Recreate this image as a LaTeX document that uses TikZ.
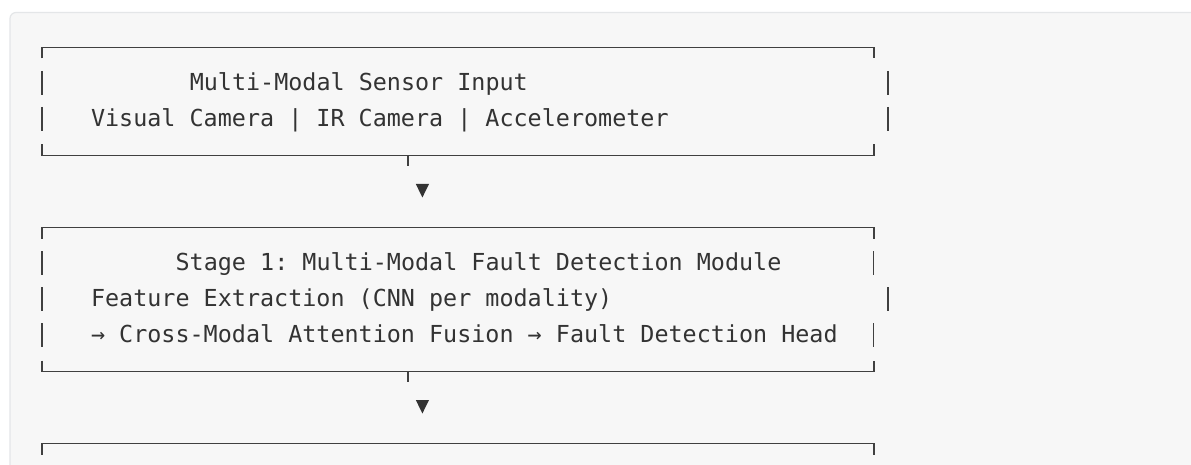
\documentclass[tikz,border=0pt]{standalone}
\usepackage{fontspec}
\setmonofont{DejaVu Sans Mono}
\definecolor{panel}{HTML}{F7F7F7}
\definecolor{panelborder}{HTML}{E4E6E8}
\definecolor{ink}{HTML}{333333}
\definecolor{rule}{HTML}{404040}
\newcommand{\cx}[1]{41.7+14.1*(#1)}
\newcommand{\ry}[1]{47.5+36*(#1)}
\begin{document}
\begin{tikzpicture}[x=1pt,y=-1pt,
  txt/.style={anchor=base west, inner sep=0pt, outer sep=0pt, text=ink,
    font=\ttfamily\fontsize{23.4}{36}\selectfont},
  frame/.style={draw=rule, line width=1.8pt},
  bar/.style={draw=rule, line width=1.7pt},
  head/.style={fill=ink, draw=none}]
\useasboundingbox (0,0) rectangle (1191,465);
\clip (0,0) rectangle (1191,465);
\fill[white] (0,0) rectangle (1191,465);
\draw[draw=panelborder, fill=panel, line width=1.2pt, rounded corners=6pt] (10,12.5) rectangle (1230,520);

% ---------- Box 1 ----------
\coordinate (b1tl) at ({\cx{0}},{\ry{0}});
\coordinate (b1tr) at ({\cx{59}},{\ry{0}});
\coordinate (b1bl) at ({\cx{0}},{\ry{3}});
\coordinate (b1br) at ({\cx{59}},{\ry{3}});
\draw[frame] ([yshift=-11]b1tl) -- (b1tl) -- (b1tr) -- ([yshift=-11]b1tr);
\draw[frame] ([yshift=11]b1bl) -- (b1bl) -- (b1br) -- ([yshift=11]b1br);
\foreach \r/\c in {1/0,1/60,2/0,2/60}
  \draw[bar] ({\cx{\c}},{\ry{\r}-12.5}) -- ({\cx{\c}},{\ry{\r}+11.5});
\node[txt] (t1a) at ({\cx{11}-7.05},{\ry{1}+7.2}) {Multi-Modal Sensor Input};
\node[txt] (t1b) at ({\cx{4}-7.05},{\ry{2}+7.2}) {Visual Camera | IR Camera | Accelerometer};

% ---------- Connector 1 ----------
\coordinate (s1) at ({\cx{26}},{\ry{3}});
\coordinate (s1e) at ({\cx{26}},{\ry{3}+10.5});
\draw[frame] (s1) -- (s1e);
\coordinate (a1) at ({\cx{27}},{\ry{4}});
\fill[head] ([xshift=-6.6,yshift=7.5]a1) -- ([xshift=6.6,yshift=7.5]a1) -- ([yshift=-6]a1) -- cycle;

% ---------- Box 2 ----------
\coordinate (b2tl) at ({\cx{0}},{\ry{5}});
\coordinate (b2tr) at ({\cx{59}},{\ry{5}});
\coordinate (b2bl) at ({\cx{0}},{\ry{9}});
\coordinate (b2br) at ({\cx{59}},{\ry{9}});
\draw[frame] ([yshift=-11]b2tl) -- (b2tl) -- (b2tr) -- ([yshift=-11]b2tr);
\draw[frame] ([yshift=11]b2bl) -- (b2bl) -- (b2br) -- ([yshift=11]b2br);
\foreach \r/\c in {6/0,6/59,7/0,7/60,8/0,8/59}
  \draw[bar] ({\cx{\c}},{\ry{\r}-12.5}) -- ({\cx{\c}},{\ry{\r}+11.5});
\node[txt] (t2a) at ({\cx{10}-7.05},{\ry{6}+7.2}) {Stage 1: Multi-Modal Fault Detection Module};
\node[txt] (t2b) at ({\cx{4}-7.05},{\ry{7}+7.2}) {Feature Extraction (CNN per modality)};
\node[txt] (t2c) at ({\cx{4}-7.05},{\ry{8}+7.2}) {→ Cross-Modal Attention Fusion → Fault Detection Head};

% ---------- Connector 2 ----------
\coordinate (s2) at ({\cx{26}},{\ry{9}});
\coordinate (s2e) at ({\cx{26}},{\ry{9}+10.5});
\draw[frame] (s2) -- (s2e);
\coordinate (a2) at ({\cx{27}},{\ry{10}});
\fill[head] ([xshift=-6.6,yshift=7.5]a2) -- ([xshift=6.6,yshift=7.5]a2) -- ([yshift=-6]a2) -- cycle;

% ---------- Box 3 (top edge) ----------
\coordinate (b3tl) at ({\cx{0}},{\ry{11}});
\coordinate (b3tr) at ({\cx{59}},{\ry{11}});
\draw[frame] ([yshift=-11]b3tl) -- (b3tl) -- (b3tr) -- ([yshift=-11]b3tr);
\end{tikzpicture}
\end{document}
